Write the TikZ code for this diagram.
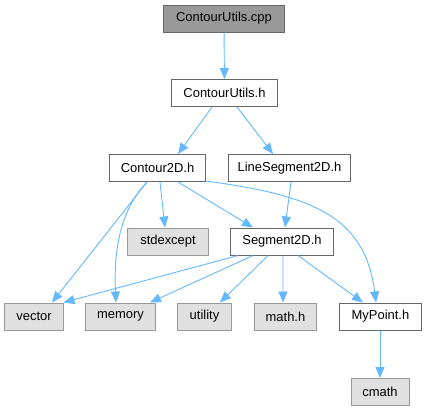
\documentclass[tikz,border=0pt]{standalone}
\usepackage{fontspec}
\setmainfont{Liberation Sans}
\usetikzlibrary{arrows.meta}
\definecolor{edgecol}{HTML}{63B8FF}
\definecolor{darkborder}{HTML}{666666}
\definecolor{lightborder}{HTML}{999999}
\definecolor{mainfill}{HTML}{999999}
\definecolor{extfill}{HTML}{E0E0E0}
\tikzset{
  basebox/.style={rectangle, inner sep=0pt, minimum height=27bp, line width=1bp,
    font=\fontsize{13}{15}\selectfont},
  mainbox/.style={basebox, draw=darkborder, fill=mainfill},
  hdrbox/.style={basebox, draw=darkborder, fill=white},
  extbox/.style={basebox, draw=lightborder, fill=extfill},
  dep/.style={draw=edgecol, line width=0.9bp,
    -{Triangle[length=11bp, width=9bp, fill=edgecol]}}
}
\begin{document}
\begin{tikzpicture}[x=1bp,y=-1bp]
\useasboundingbox (0,0) rectangle (426,411);
\node[mainbox, minimum width=120bp] (cpp) at (224,18.5) {ContourUtils.cpp};
\node[hdrbox, minimum width=105bp] (cuh) at (224.5,93) {ContourUtils.h};
\node[hdrbox, minimum width=95bp] (c2d) at (157.5,168) {Contour2D.h};
\node[hdrbox, minimum width=121bp] (ls2d) at (289.5,168) {LineSegment2D.h};
\node[extbox, minimum width=80bp] (stdex) at (168,241.5) {stdexcept};
\node[hdrbox, minimum width=102bp] (s2d) at (282,241.5) {Segment2D.h};
\node[extbox, minimum width=58bp] (vector) at (34,316.5) {vector};
\node[extbox, minimum width=69bp] (memory) at (120.5,316.5) {memory};
\node[extbox, minimum width=53bp] (utility) at (204.5,316.5) {utility};
\node[extbox, minimum width=61bp] (math) at (285.5,316.5) {math.h};
\node[hdrbox, minimum width=81bp] (mypoint) at (380.5,316.5) {MyPoint.h};
\node[extbox, minimum width=58bp] (cmath) at (380,392) {cmath};

\draw[dep] (cpp) -- (cuh);
\draw[dep] ([xshift=-12.5bp]cuh.south) -- ([xshift=20.5bp]c2d.north);
\draw[dep] ([xshift=12.5bp]cuh.south) -- ([xshift=-16.5bp]ls2d.north);
\draw[dep] ([xshift=-10.5bp]c2d.south) -- ([xshift=18bp]vector.north);
\draw[dep] ([xshift=-10.5bp]c2d.south) .. controls (125,205) and (113,240) .. ([xshift=-4.5bp]memory.north);
\draw[dep] ([xshift=2.5bp]c2d.south) -- ([xshift=-3bp]stdex.north);
\draw[dep] ([xshift=20.5bp]c2d.south) -- ([xshift=-29bp]s2d.north);
\draw[dep] ([yshift=1bp]c2d.south east) .. controls (310,195) and (365,215) .. ([xshift=-4.5bp]mypoint.north);
\draw[dep] ([xshift=1.5bp]ls2d.south) -- ([xshift=3bp]s2d.north);
\draw[dep] ([xshift=-44bp]s2d.south) -- (vector.north east);
\draw[dep] ([xshift=-29bp]s2d.south) -- ([xshift=29.5bp]memory.north);
\draw[dep] ([xshift=-14bp]s2d.south) -- ([xshift=15.5bp]utility.north);
\draw[dep] ([xshift=1bp]s2d.south) -- ([xshift=-2.5bp]math.north);
\draw[dep] ([xshift=16bp]s2d.south) -- ([xshift=-17.5bp]mypoint.north);
\draw[dep] ([xshift=-0.5bp]mypoint.south) -- (cmath.north);
\end{tikzpicture}
\end{document}
